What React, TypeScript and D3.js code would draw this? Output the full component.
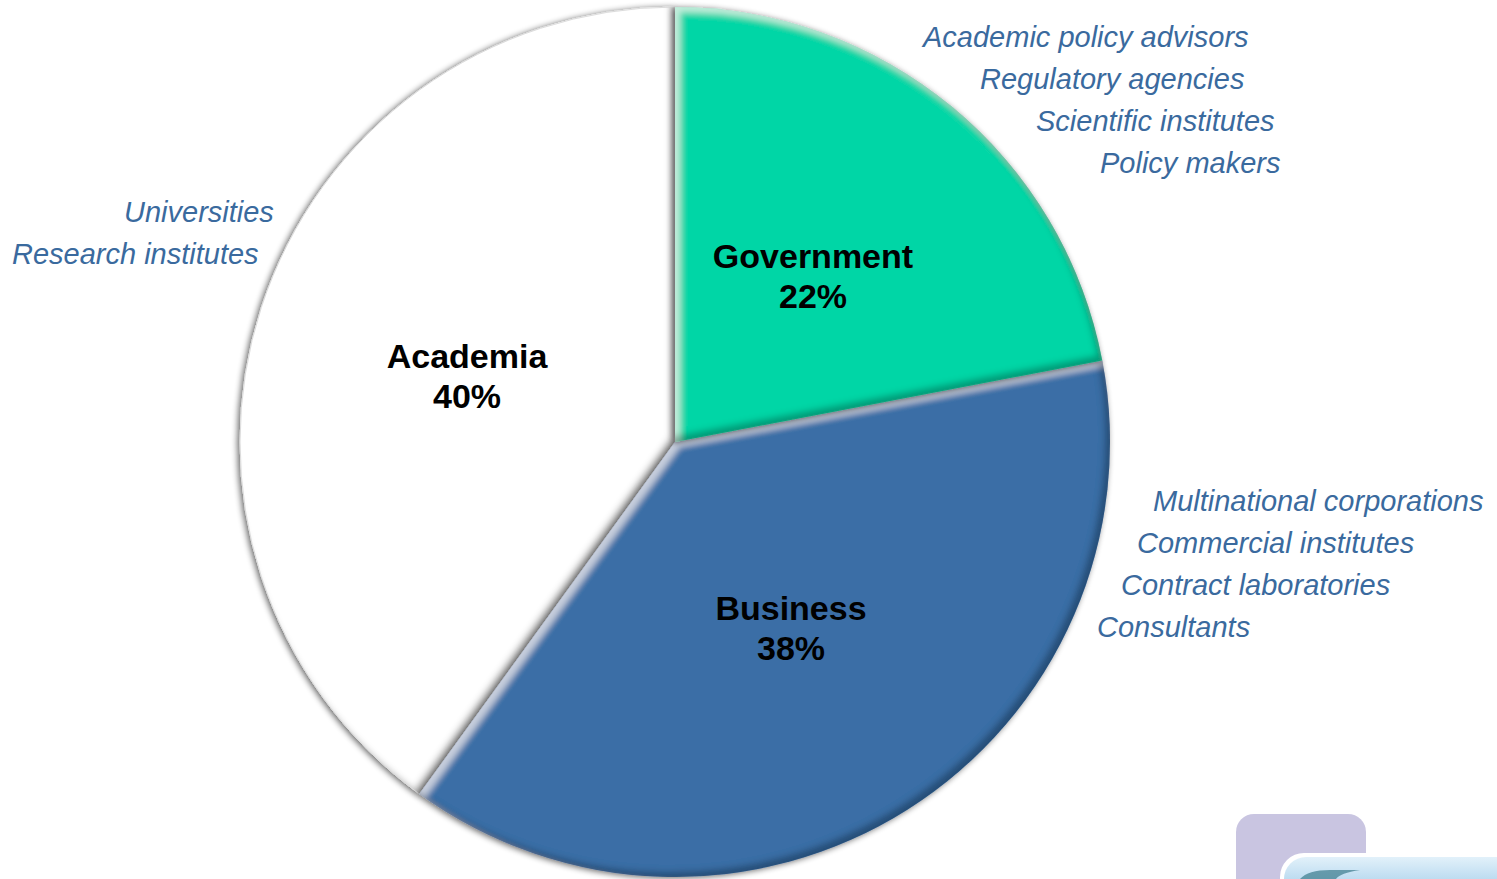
import { useEffect, useRef } from 'react'
import * as d3 from 'd3'

// Sector order clockwise from 12 o'clock
const SECTORS = ['Government', 'Business', 'Academia']
const SHARES = [22, 38, 40]
const SECTOR_COLORS = ['#06D6A6', '#3A6EA6', '#FFFFFF']

const GOV_MEMBERS = ['Academic policy advisors', 'Regulatory agencies', 'Scientific institutes', 'Policy makers']
const BIZ_MEMBERS = ['Multinational corporations', 'Commercial institutes', 'Contract laboratories', 'Consultants']
const ACA_MEMBERS = ['Universities', 'Research institutes']

const W = 1497
const H = 879

export default function App() {
  const svgRef = useRef<SVGSVGElement>(null)

  useEffect(() => {
    if (!svgRef.current) return
    const svg = d3.select(svgRef.current)
    svg.selectAll('*').remove()
    svg.attr('width', W).attr('height', H)

    const cx = 675
    const cy = 442
    const r = 435

    const defs = svg.append('defs')

    // drop shadow
    const ds = defs.append('filter').attr('id', 'drop').attr('x', '-10%').attr('y', '-10%').attr('width', '120%').attr('height', '120%')
    ds.append('feGaussianBlur').attr('in', 'SourceAlpha').attr('stdDeviation', 3).attr('result', 'b')
    ds.append('feOffset').attr('in', 'b').attr('dx', -2).attr('dy', 1).attr('result', 'o')
    ds.append('feComponentTransfer').attr('in', 'o').attr('result', 's')
      .append('feFuncA').attr('type', 'linear').attr('slope', 0.6)
    const dm = ds.append('feMerge')
    dm.append('feMergeNode').attr('in', 's')
    dm.append('feMergeNode').attr('in', 'SourceGraphic')

    // bevel: highlight on top-left inner edge, shade on bottom-right inner edge
    const bv = defs.append('filter').attr('id', 'bevel').attr('x', '-5%').attr('y', '-5%').attr('width', '110%').attr('height', '110%')
    bv.append('feGaussianBlur').attr('in', 'SourceAlpha').attr('stdDeviation', 3).attr('result', 'blur')
    bv.append('feOffset').attr('in', 'blur').attr('dx', 5).attr('dy', 5).attr('result', 'shDown')
    bv.append('feOffset').attr('in', 'blur').attr('dx', -5).attr('dy', -5).attr('result', 'shUp')
    bv.append('feComposite').attr('in', 'SourceAlpha').attr('in2', 'shDown').attr('operator', 'out').attr('result', 'hiBand')
    bv.append('feFlood').attr('flood-color', '#ffffff').attr('flood-opacity', 0.55).attr('result', 'hiCol')
    bv.append('feComposite').attr('in', 'hiCol').attr('in2', 'hiBand').attr('operator', 'in').attr('result', 'hi')
    bv.append('feComposite').attr('in', 'SourceAlpha').attr('in2', 'shUp').attr('operator', 'out').attr('result', 'loBand')
    bv.append('feFlood').attr('flood-color', '#000000').attr('flood-opacity', 0.5).attr('result', 'loCol')
    bv.append('feComposite').attr('in', 'loCol').attr('in2', 'loBand').attr('operator', 'in').attr('result', 'lo')
    const bm = bv.append('feMerge')
    bm.append('feMergeNode').attr('in', 'SourceGraphic')
    bm.append('feMergeNode').attr('in', 'hi')
    bm.append('feMergeNode').attr('in', 'lo')

    const pie = d3.pie<number>().sort(null).value((d) => d)
    const arcs = pie(SHARES)
    const arc = d3.arc<d3.PieArcDatum<number>>().innerRadius(0).outerRadius(r)

    const g = svg.append('g').attr('transform', `translate(${cx},${cy})`)

    // academia first so the coloured wedges cast shadows on it
    const order = [2, 1, 0]
    order.forEach((i) => {
      const a = arcs[i]
      const wrap = g.append('g').attr('filter', 'url(#drop)')
      wrap.append('path')
        .attr('d', arc(a) as string)
        .attr('fill', SECTOR_COLORS[i])
        .attr('filter', 'url(#bevel)')
      if (i === 2) {
        wrap.append('path')
          .attr('d', arc(a) as string)
          .attr('fill', 'none')
          .attr('stroke', '#dcdcdc')
          .attr('stroke-width', 1)
      }
    })

    // category labels
    const labelPos = [
      [813, 256],
      [791, 608],
      [467, 356],
    ]
    SECTORS.forEach((name, i) => {
      const t = svg.append('text')
        .attr('text-anchor', 'middle')
        .attr('font-family', 'Liberation Sans, Arial, sans-serif')
        .attr('font-weight', 'bold')
        .attr('font-size', 34)
        .attr('fill', '#000')
      t.append('tspan').attr('x', labelPos[i][0]).attr('y', labelPos[i][1] + 12).text(name)
      t.append('tspan').attr('x', labelPos[i][0]).attr('y', labelPos[i][1] + 52).text(`${SHARES[i]}%`)
    })

    // member lists (staggered left edges, 42px line step)
    const blocks = [
      { items: GOV_MEMBERS, xs: [923, 980, 1036, 1100], y0: 47 },
      { items: BIZ_MEMBERS, xs: [1153, 1137, 1121, 1097], y0: 511 },
      { items: ACA_MEMBERS, xs: [124, 12], y0: 222 },
    ]
    blocks.forEach((b) => {
      b.items.forEach((txt, k) => {
        svg.append('text')
          .attr('x', b.xs[k])
          .attr('y', b.y0 + k * 42)
          .attr('font-family', 'Liberation Sans, Arial, sans-serif')
          .attr('font-style', 'italic')
          .attr('font-size', 29)
          .attr('fill', '#3A6A9E')
          .text(txt)
      })
    })

    // decorative corner tiles
    const blueGrad = defs.append('linearGradient').attr('id', 'tile').attr('x1', 0).attr('y1', 0).attr('x2', 0).attr('y2', 1)
    blueGrad.append('stop').attr('offset', '0%').attr('stop-color', '#e2f1fa')
    blueGrad.append('stop').attr('offset', '50%').attr('stop-color', '#9fcbe9')
    blueGrad.append('stop').attr('offset', '100%').attr('stop-color', '#6aa8d4')
    svg.append('rect').attr('x', 1236).attr('y', 814).attr('width', 130).attr('height', 100).attr('rx', 18)
      .attr('fill', '#c9c5e1')
    svg.append('rect').attr('x', 1280).attr('y', 853).attr('width', 260).attr('height', 80).attr('rx', 24)
      .attr('fill', '#ffffff')
    svg.append('rect').attr('x', 1284).attr('y', 857).attr('width', 250).attr('height', 80).attr('rx', 22)
      .attr('fill', 'url(#tile)')
    svg.append('path').attr('d', 'M1300,879 Q1308,870 1330,870 L1360,870 Q1340,873 1336,879 Z').attr('fill', '#3b7a8c').attr('opacity', 0.7)
  }, [])

  return (
    <svg
      ref={svgRef}
      style={{ position: 'fixed', left: 0, top: 0, background: '#fff', display: 'block' }}
    />
  )
}
